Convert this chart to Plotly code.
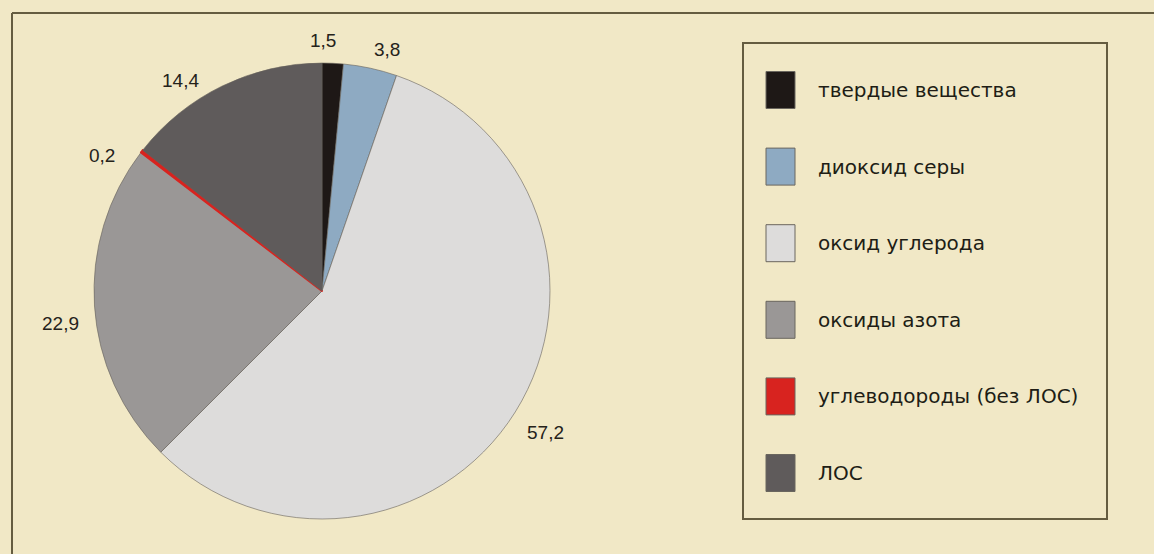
import plotly.graph_objects as go

# Emission shares, per cent
categories = ["твердые вещества", "диоксид серы", "оксид углерода",
              "оксиды азота", "углеводороды (без ЛОС)", "ЛОС"]
values = [1.5, 3.8, 57.2, 22.9, 0.2, 14.4]
value_labels = ["1,5", "3,8", "57,2", "22,9", "0,2", "14,4"]

colors = ["#1e1816", "#8eaac2", "#dddcdb", "#9a9796", "#d8231f", "#5f5b5b"]
# slice outlines; the thin red wedge gets its own colour so it stays visible
edge_colors = ["#66625a", "#66625a", "#66625a", "#66625a", "#d8231f", "#66625a"]
edge_widths = [0.6, 0.6, 0.6, 0.6, 2.0, 0.6]

W, H = 1154, 554
BG = "#f1e8c6"
FRAME = "#655c40"

# pie geometry in pixels
cx, cy, r = 322, 291, 228
# value label centres in pixels
label_pos = [(323, 41), (387, 49), (545, 432), (60, 323), (102, 155), (180, 80)]


def px(x):
    return x / W


def py(y):
    return 1 - y / H


fig = go.Figure(go.Pie(
    labels=categories,
    values=values,
    sort=False,
    direction="clockwise",
    rotation=0,
    textinfo="none",
    hoverinfo="label+value",
    marker=dict(colors=colors, line=dict(color=edge_colors, width=edge_widths)),
    domain=dict(x=[px(cx - r), px(cx + r)], y=[py(cy + r), py(cy - r)]),
    showlegend=False,
))

shapes = [
    # outer frame (left and top edges)
    dict(type="line", xref="paper", yref="paper", x0=px(12), x1=px(12),
         y0=py(13), y1=0, line=dict(color=FRAME, width=2)),
    dict(type="line", xref="paper", yref="paper", x0=px(12), x1=1,
         y0=py(13), y1=py(13), line=dict(color=FRAME, width=2)),
    # legend box
    dict(type="rect", xref="paper", yref="paper", x0=px(743), x1=px(1107),
         y0=py(519), y1=py(43), line=dict(color=FRAME, width=2)),
]

annotations = []
for text, (lx, ly) in zip(value_labels, label_pos):
    annotations.append(dict(
        x=px(lx), y=py(ly), xref="paper", yref="paper", text=text,
        showarrow=False, xanchor="center", yanchor="middle",
        font=dict(family="Liberation Sans", size=19, color="#25221a")))

# legend rows
row0, row_step = 90, 76.6
for i, (name, col) in enumerate(zip(categories, colors)):
    yc = row0 + i * row_step
    shapes.append(dict(type="rect", xref="paper", yref="paper",
                       x0=px(766), x1=px(795), y0=py(yc + 18.5), y1=py(yc - 18.5),
                       fillcolor=col, line=dict(color="#6a665e", width=1)))
    annotations.append(dict(
        x=px(816), y=py(yc), xref="paper", yref="paper", text=name,
        showarrow=False, xanchor="left", yanchor="middle",
        font=dict(family="DejaVu Sans", size=20, color="#201d15")))

fig.update_layout(
    width=W, height=H,
    margin=dict(l=0, r=0, t=0, b=0),
    paper_bgcolor=BG, plot_bgcolor=BG,
    shapes=shapes, annotations=annotations,
)

fig.write_html("out.html")
